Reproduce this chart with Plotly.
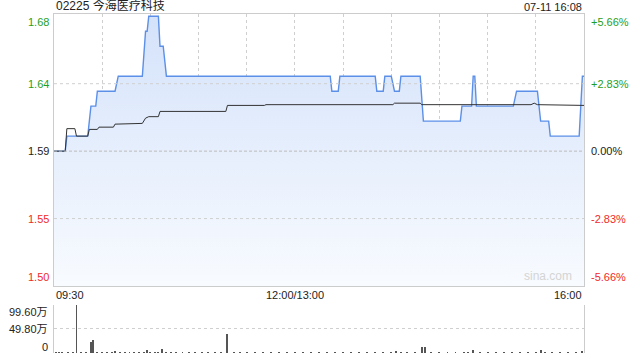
import plotly.graph_objects as go

# ---- data (minutes since 09:30, lunch removed; 330 = 16:00) ----
prev_close = 1.59
price_t = [0, 7, 8, 21, 23, 26, 27, 38, 40, 55, 57, 58, 59, 65, 66, 68, 70,
           172, 173, 177, 178, 200, 201, 205, 206, 210, 212, 215, 216, 228,
           230, 253, 254, 260, 261, 262, 263, 286, 288, 301, 303, 308, 309, 327, 329, 330]
price_v = [1.59, 1.59, 1.60, 1.60, 1.62, 1.62, 1.63, 1.63, 1.64, 1.64, 1.67, 1.67, 1.68, 1.68, 1.66, 1.66, 1.64,
           1.64, 1.63, 1.63, 1.64, 1.64, 1.63, 1.63, 1.64, 1.64, 1.63, 1.63, 1.64, 1.64,
           1.61, 1.61, 1.62, 1.62, 1.64, 1.64, 1.62, 1.62, 1.63, 1.63, 1.61, 1.61, 1.60, 1.60, 1.64, 1.64]
avg_t = [0, 7, 8, 13, 14, 21, 22, 27, 28, 37, 38, 49, 50, 55, 57, 59, 65, 66, 107, 108, 131, 132,
         211, 212, 228, 229, 297, 299, 301, 329, 330]
avg_v = [1.59, 1.59, 1.605, 1.605, 1.60, 1.60, 1.6045, 1.6045, 1.606, 1.606, 1.608, 1.608, 1.6085, 1.6085,
         1.612, 1.613, 1.613, 1.6165, 1.6165, 1.6205, 1.6205, 1.621,
         1.621, 1.622, 1.622, 1.621, 1.621, 1.622, 1.621, 1.621, 1.6205]
vol_t = [1, 3, 5, 9, 12, 14, 17, 20, 23, 24, 27, 30, 33, 36, 38, 41, 44, 47, 50, 53, 56, 58, 60, 63, 65, 67,
         70, 73, 76, 80, 84, 88, 92, 96, 100, 104, 108, 112, 116, 120, 125, 130, 135, 140, 145, 150, 155,
         160, 165, 170, 175, 180, 185, 190, 195, 200, 205, 210, 213, 216, 220, 225, 229, 231, 235, 240,
         245, 250, 255, 258, 261, 265, 270, 275, 280, 285, 290, 295, 300, 303, 306, 310, 315, 320, 325, 329]
vol_v = [1.5, 1, 1.5, 1, 1.5, 99.6, 1, 1.5, 23, 27, 1, 1.5, 1, 1.5, 4, 1, 1.5, 2, 1, 1.5, 2, 6, 1.5, 2, 1, 8,
         1.5, 1, 1.5, 1, 1.5, 1, 1.5, 1, 1.5, 1, 39, 1.5, 1, 1.5, 1, 1.5, 1, 1.5, 2, 1, 1.5,
         1, 1.5, 1, 1.5, 1, 1.5, 1, 1.5, 1, 1.5, 2, 4, 1.5, 1, 2, 12, 12, 1.5, 1,
         1.5, 2, 1, 1.5, 6, 1.5, 1, 1.5, 1, 1.5, 1, 1.5, 2, 6, 1.5, 1, 1.5, 1, 2, 4]
left_ticks = ["1.68", "1.64", "1.59", "1.55", "1.50"]
right_ticks = ["+5.66%", "+2.83%", "0.00%", "-2.83%", "-5.66%"]
vol_ticks = ["99.60万", "49.80万", "0"]
x_labels = ["09:30", "12:00/13:00", "16:00"]

pct = 0.0566
lo, hi = prev_close * (1 - pct), prev_close * (1 + pct)
mid_hi, mid_lo = prev_close * (1 + pct / 2), prev_close * (1 - pct / 2)

FONT = "Liberation Sans, Arial, Noto Sans CJK SC, sans-serif"
GREEN = "#1ea01e"
RED = "#f02a2a"
GRID = "#cfcfcf"

fig = go.Figure()
fig.add_trace(go.Scatter(x=[0, 330], y=[lo, lo], mode="lines", line=dict(width=0),
                         hoverinfo="skip", showlegend=False))
fig.add_trace(go.Scatter(x=price_t, y=price_v, mode="lines", fill="tonexty",
                         line=dict(color="#5b8fe8", width=1.4),
                         fillgradient=dict(type="vertical", start=lo, stop=hi,
                                           colorscale=[[0, "rgb(248,251,255)"], [1, "rgb(212,226,250)"]]),
                         showlegend=False))
fig.add_trace(go.Scatter(x=avg_t, y=avg_v, mode="lines", line=dict(color="#333333", width=1),
                         showlegend=False))
fig.add_trace(go.Bar(x=vol_t, y=vol_v, width=0.6, marker=dict(color="#555555", line=dict(width=0)),
                     xaxis="x2", yaxis="y2", showlegend=False))

# horizontal reference lines in the price panel
fig.add_shape(type="line", xref="x", yref="y", x0=0, x1=330, y0=mid_hi, y1=mid_hi,
              line=dict(color=GRID, width=1, dash="dot"))
fig.add_shape(type="line", xref="x", yref="y", x0=0, x1=330, y0=mid_lo, y1=mid_lo,
              line=dict(color=GRID, width=1, dash="dot"))
fig.add_shape(type="line", xref="x", yref="y", x0=0, x1=330, y0=prev_close, y1=prev_close,
              line=dict(color="#bbbbbb", width=1, dash="3px,2px"))

ann = []
left_y = [hi, mid_hi, prev_close, mid_lo, lo]
shifts = [-6, 0, 0, 0, 9]
colors = [GREEN, GREEN, "#222222", RED, RED]
for t, yv, s, c in zip(left_ticks, left_y, shifts, colors):
    ann.append(dict(text=t, xref="paper", yref="y", x=0, y=yv, xanchor="right", xshift=-3,
                    yshift=s, showarrow=False, font=dict(size=11, color=c, family=FONT)))
for t, yv, s, c in zip(right_ticks, left_y, shifts, colors):
    ann.append(dict(text=t, xref="paper", yref="y", x=1, y=yv, xanchor="left", xshift=5,
                    yshift=s, showarrow=False, font=dict(size=11, color=c, family=FONT)))
vol_y = [99.6, 49.8, 0]
vshift = [-7, 0, 6]
for t, yv, s in zip(vol_ticks, vol_y, vshift):
    ann.append(dict(text=t, xref="paper", yref="y2", x=0, y=yv, xanchor="right", xshift=-4,
                    yshift=s, showarrow=False, font=dict(size=11, color="#222222", family=FONT)))
ann.append(dict(text=x_labels[0], xref="x", yref="paper", x=0, y=0.1976, yanchor="top", xanchor="left",
                yshift=-1, showarrow=False, font=dict(size=11, color="#222222", family=FONT)))
ann.append(dict(text=x_labels[1], xref="x", yref="paper", x=150, y=0.1976, yanchor="top", xanchor="center",
                yshift=-1, showarrow=False, font=dict(size=11, color="#222222", family=FONT)))
ann.append(dict(text=x_labels[2], xref="x", yref="paper", x=330, y=0.1976, yanchor="top", xanchor="right",
                yshift=-1, showarrow=False, font=dict(size=11, color="#222222", family=FONT)))
ann.append(dict(text="02225 今海医疗科技", xref="paper", yref="paper", x=0, y=1, xanchor="left",
                yanchor="bottom", yshift=-1, showarrow=False, font=dict(size=12, color="#222222", family=FONT)))
ann.append(dict(text="07-11 16:08", xref="paper", yref="paper", x=1, y=1, xanchor="right",
                yanchor="bottom", yshift=-1, showarrow=False, font=dict(size=11, color="#222222", family=FONT)))
ann.append(dict(text="sina.com", xref="paper", yref="y", x=1, y=lo, xanchor="right", yanchor="bottom",
                xshift=-10, yshift=1, showarrow=False, font=dict(size=12, color="#d4d4d4", family=FONT)))

fig.update_layout(
    width=640, height=360, margin=dict(l=54, r=56, t=14, b=7),
    paper_bgcolor="white", plot_bgcolor="white",
    font=dict(family=FONT, size=11, color="#222222"),
    annotations=ann, bargap=0,
    xaxis=dict(domain=[0, 1], range=[0, 330], tickvals=list(range(30, 330, 30)), showticklabels=False,
               showgrid=True, gridcolor=GRID, griddash="dot", gridwidth=1, zeroline=False,
               showline=True, mirror=True, linecolor="#cccccc", linewidth=1, anchor="y", ticks=""),
    yaxis=dict(domain=[0.1976, 1], range=[lo, hi + 0.0015], showticklabels=False, showgrid=False,
               zeroline=False, showline=True, mirror=True, linecolor="#cccccc", linewidth=1, ticks=""),
    xaxis2=dict(range=[0, 330], anchor="y2", showticklabels=False, showgrid=False, zeroline=False,
                showline=False, ticks="", matches=None),
    yaxis2=dict(domain=[0, 0.1416], range=[0, 99.6], tickvals=[0, 49.8, 99.6], showticklabels=False,
                showgrid=True, gridcolor=GRID, griddash="dot", zeroline=False, showline=True,
                mirror=True, linecolor="#cccccc", linewidth=1, ticks="", anchor="x2"),
)
fig.write_html("out.html")
